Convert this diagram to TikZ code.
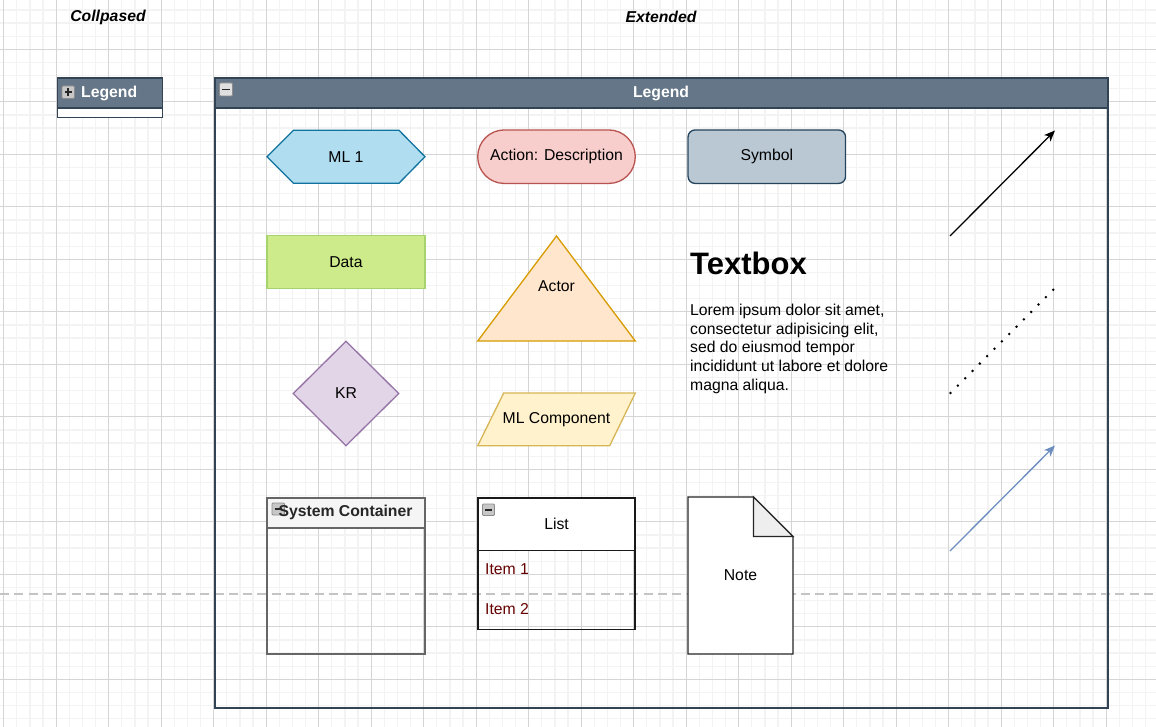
\documentclass[tikz,border=0pt]{standalone}
\usepackage{fontspec}
\setmainfont{Liberation Sans}
\usetikzlibrary{arrows.meta,shapes.geometric}

\definecolor{gridminor}{HTML}{F3F3F3}
\definecolor{gridmajor}{HTML}{D5D5D5}
\definecolor{pagebreak}{HTML}{C4C4C4}
\definecolor{slatefill}{HTML}{647687}
\definecolor{slateline}{HTML}{314354}
\definecolor{mlfill}{HTML}{B1DDF0}
\definecolor{mlline}{HTML}{10739E}
\definecolor{actfill}{HTML}{F8CECC}
\definecolor{actline}{HTML}{B85450}
\definecolor{symfill}{HTML}{BAC8D3}
\definecolor{symline}{HTML}{23445D}
\definecolor{datafill}{HTML}{CDEB8B}
\definecolor{dataline}{HTML}{A6D36E}
\definecolor{actorfill}{HTML}{FFE6CC}
\definecolor{actorline}{HTML}{D79B00}
\definecolor{krfill}{HTML}{E1D5E7}
\definecolor{krline}{HTML}{9673A6}
\definecolor{compfill}{HTML}{FFF2CC}
\definecolor{compline}{HTML}{D6B656}
\definecolor{contfill}{HTML}{F5F5F5}
\definecolor{contline}{HTML}{666666}
\definecolor{itemred}{HTML}{660000}
\definecolor{bluearrow}{HTML}{6C8EBF}
\definecolor{foldfill}{HTML}{EEEEEE}

\tikzset{
  txt/.style={font=\fontsize{15.75}{18.9}\selectfont, inner sep=0pt},
  boldtxt/.style={font=\fontsize{15.75}{18.9}\selectfont\bfseries, inner sep=0pt},
  shapeline/.style={line width=1.3pt},
  iconbox/.style={draw=black!45, fill=black!22, line width=0.8pt, rounded corners=1pt},
  iconmark/.style={line width=1.6pt, black!85},
  classicarrow/.style={line width=1.3pt, -{Stealth[length=11pt,width=9pt,inset=3pt]}},
}

\begin{document}
\begin{tikzpicture}[x=1pt,y=-1pt]
\useasboundingbox (0,0) rectangle (1156,727);
\fill[white] (0,0) rectangle (1156,727);

% background grid: light minor lines, darker major lines every fourth
\foreach \i in {0,...,88}
  \draw[gridminor, line width=1.2pt] ({3.7+13.125*\i},0) -- ({3.7+13.125*\i},727);
\foreach \j in {0,...,56}
  \draw[gridminor, line width=1.2pt] (0,{-3.2+13.125*\j}) -- (1156,{-3.2+13.125*\j});
\foreach \i in {0,...,22}
  \draw[gridmajor, line width=1.1pt] ({3.7+52.5*\i},0) -- ({3.7+52.5*\i},727);
\foreach \j in {0,...,14}
  \draw[gridmajor, line width=1.1pt] (0,{-3.2+52.5*\j}) -- (1156,{-3.2+52.5*\j});

% page break
\draw[pagebreak, line width=2.2pt, dash pattern=on 9pt off 5.3pt] (0,593.7) -- (1156,593.7);

% section titles
\node[boldtxt, font=\fontsize{15.75}{18.9}\selectfont\bfseries\itshape] (ttlcol) at (108,17) {Collpased};
\node[boldtxt, font=\fontsize{15.75}{18.9}\selectfont\bfseries\itshape] (ttlext) at (661,17) {Extended};

% collapsed legend
\draw[slateline, fill=white, shapeline] (57.5,78) rectangle (162.5,117.5);
\draw[slateline, fill=slatefill, shapeline] (57.5,78) rectangle (162.5,108);
\draw[iconbox] (62,86) rectangle (74.5,98.5);
\draw[iconmark] (64.5,92.25) -- (72,92.25);
\draw[iconmark] (68.25,88.5) -- (68.25,96);
\node[boldtxt, white, anchor=west] (legc) at (81,93) {Legend};

% extended legend container
\draw[slateline, shapeline] (215,78) rectangle (1108,708);
\draw[slateline, fill=slatefill, shapeline] (215,78) rectangle (1108,108);
\draw[iconbox, fill=black!12] (219.5,83) rectangle (232.5,96);
\draw[iconmark] (222,89.5) -- (230,89.5);
\node[boldtxt, white] (lege) at (661,93) {Legend};

% ML 1 hexagon
\draw[mlline, fill=mlfill, shapeline] (267,156.7) -- (293.5,130.3) -- (399,130.3)
  -- (425,156.7) -- (399,183.2) -- (293.5,183.2) -- cycle;
\node[txt] (ml1) at (346,156.7) {ML 1};

% action pill
\node[txt, draw=actline, fill=actfill, shapeline, rounded corners=26.5pt,
      minimum width=157.5pt, minimum height=53.5pt] (act) at (556.5,156.7) {Action: Description};

% symbol
\node[txt, draw=symline, fill=symfill, shapeline, rounded corners=7pt,
      minimum width=157.5pt, minimum height=53.5pt] (sym) at (766.8,156.7) {Symbol};

% data
\node[txt, draw=dataline, fill=datafill, shapeline,
      minimum width=158pt, minimum height=53pt] (data) at (346,261.8) {Data};

% actor triangle
\draw[actorline, fill=actorfill, shapeline] (556.5,236) -- (635.3,341) -- (477.7,341) -- cycle;
\node[txt] (actor) at (556.5,286.5) {Actor};

% KR diamond
\node[txt, diamond, draw=krline, fill=krfill, shapeline,
      minimum width=106pt, minimum height=105pt] (kr) at (346,393.5) {KR};

% ML component parallelogram
\draw[compline, fill=compfill, shapeline] (503.7,393) -- (635.3,393) -- (609.7,445.7) -- (477.7,445.7) -- cycle;
\node[txt] (comp) at (556.5,419.3) {ML Component};

% textbox
\node[inner sep=0pt, anchor=west, font=\fontsize{31}{36}\selectfont\bfseries] (tbhead) at (690,263.5) {Textbox};
\node[txt, anchor=north west, align=left] (tbbody) at (690,303.5)
  {Lorem ipsum dolor sit amet,\\consectetur adipisicing elit,\\sed do eiusmod tempor\\incididunt ut labore et dolore\\magna aliqua.};

% system container
\draw[contline, shapeline] (267,498) rectangle (425,654);
\draw[contline, fill=contfill, shapeline] (267,498) rectangle (425,528);
\draw[iconbox] (272,503) rectangle (284.5,515);
\draw[iconmark] (274.5,509) -- (282,509);
\node[boldtxt, text=black!85] (sysc) at (345.5,512.5) {System Container};

% list
\draw[black!90, shapeline] (478,498) rectangle (635,629.5);
\draw[black!90, fill=white, shapeline] (478,498) rectangle (635,550.5);
\draw[iconbox] (482.5,504) rectangle (494.5,515.5);
\draw[iconmark] (484.8,509.75) -- (492.2,509.75);
\node[txt] (list) at (556.5,523.5) {List};
\node[txt, anchor=west, text=itemred] (item1) at (485,569.5) {Item 1};
\node[txt, anchor=west, text=itemred] (item2) at (485,609.5) {Item 2};

% note with folded corner
\draw[black!85, fill=white, shapeline] (688,497) -- (753.5,497) -- (793,536.5) -- (793,654) -- (688,654) -- cycle;
\draw[black!85, fill=foldfill, shapeline] (753.5,497) -- (753.5,536.5) -- (793,536.5) -- cycle;
\node[txt] (note) at (740.5,575) {Note};

% connector samples
\coordinate (blkstart) at (950,236);
\coordinate (blkend) at (1055,130.5);
\coordinate (dotstart) at (950.5,393);
\coordinate (dotend) at (1055,288);
\coordinate (bluestart) at (950,551);
\coordinate (blueend) at (1055,445.5);
\draw[classicarrow, black] (blkstart) -- (blkend);
\draw[black, line width=2.8pt, line cap=round, dash pattern=on 0pt off 10.4pt] (dotstart) -- (dotend);
\draw[classicarrow, bluearrow] (bluestart) -- (blueend);
\end{tikzpicture}
\end{document}
